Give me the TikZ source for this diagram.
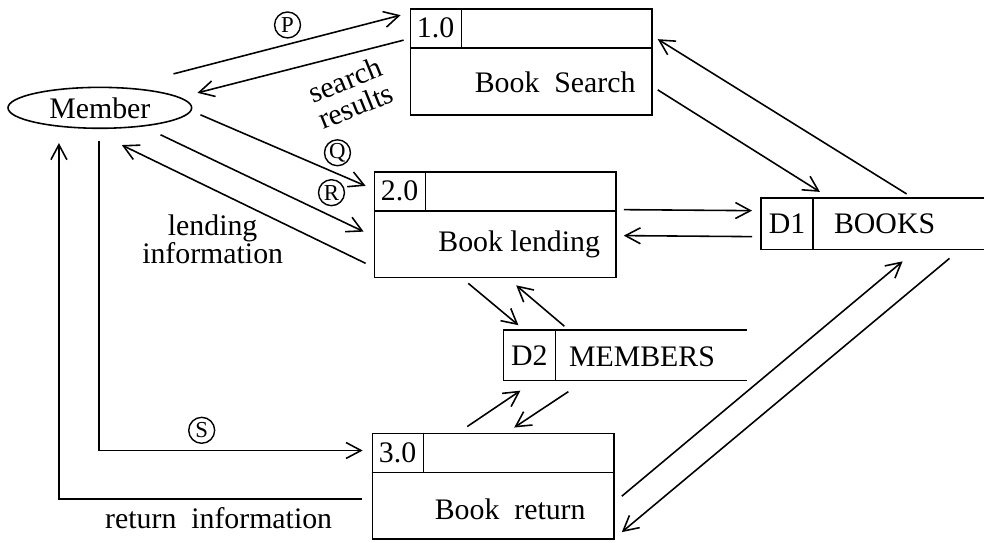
\documentclass[tikz,border=0pt]{standalone}
\usepackage{fontspec}
\setmainfont{Liberation Serif}
\usetikzlibrary{shapes.geometric,arrows.meta}

\begin{document}
\begin{tikzpicture}[x=0.02cm, y=-0.02cm]
    \path[fill=white] (0,0) rectangle (985,543);
    \begin{scope}
        \tikzstyle{every node}=[draw=black, line width=0.9pt, rectangle, minimum width=4.84cm, minimum height=2.12cm, inner sep=0pt, font=\fontsize{17}{20}\selectfont]
        \node (p1) at (532,62) {};
        \node (p2) at (496,225) {};
        \node (p3) at (494,487) {};
        \node[ellipse, minimum width=3.68cm, minimum height=0.82cm] (member) at (100,108) {Member};
        \node[draw=none, minimum width=4.44cm, minimum height=1cm] (d1) at (874,224) {};
        \node[draw=none, minimum width=4.84cm, minimum height=0.98cm] (d2) at (626,356) {};
    \end{scope}
    \begin{scope}[line width=0.9pt]
        \foreach \p in {p1,p2,p3} {
            \draw ([yshift=-0.8cm]\p.north west) -- ([yshift=-0.8cm]\p.north east);
            \draw ([xshift=1.04cm]\p.north west) -- ([xshift=1.04cm,yshift=-0.8cm]\p.north west);
        }
        \foreach \d in {d1,d2} {
            \draw (\d.north east) -- (\d.north west) -- (\d.south west) -- (\d.south east);
            \draw ([xshift=1.04cm]\d.north west) -- ([xshift=1.04cm]\d.south west);
        }
    \end{scope}
    \begin{scope}
        \tikzstyle{every node}=[inner sep=1pt, font=\fontsize{17}{16}\selectfont]
        \node (p1id) at ([xshift=0.52cm,yshift=-0.4cm]p1.north west) {1.0};
        \node (p2id) at ([xshift=0.52cm,yshift=-0.4cm]p2.north west) {2.0};
        \node (p3id) at ([xshift=0.52cm,yshift=-0.4cm]p3.north west) {3.0};
        \node (p1name) at (556,82) {Book\ \ Search};
        \node (p2name) at (520,245) {Book lending};
        \node (p3name) at (511,510) {Book\ \ return};
        \node (d1id) at ([xshift=0.52cm]d1.west) {D1};
        \node (d1name) at (886,224) {BOOKS};
        \node (d2id) at ([xshift=0.52cm]d2.west) {D2};
        \node (d2name) at (643,357) {MEMBERS};
        \node[rotate=22, align=center] (searchlbl) at (351,93) {search\\results};
        \node[align=center] (lendlbl) at (213,240) {lending\\information};
        \node (retlbl) at (219,519) {return\ \ information};
    \end{scope}
    \begin{scope}
        \tikzstyle{every node}=[draw=black, circle, line width=0.8pt, inner sep=0pt, minimum size=0.52cm, font=\fontsize{13}{13}\selectfont]
        \node (markP) at (288,25) {P};
        \node (markQ) at (338,153) {Q};
        \node (markR) at (332,193) {R};
        \node (markS) at (202,431) {S};
    \end{scope}
    \begin{scope}
        \tikzstyle{every edge}=[draw, line width=0.9pt, -{Straight Barb[length=3mm,width=3.2mm]}]
        \path
        ([shift={(-19,-34)}]member.east) edge ([shift={(-9,7)}]p1.north west)
        ([shift={(-6,32)}]p1.north west) edge ([shift={(5,-15)}]member.east)
        ([shift={(8,7)}]member.east) edge ([shift={(-8,15)}]p2.north west)
        ([shift={(-32,27)}]member.east) edge ([shift={(-10,7)}]p2.west)
        ([shift={(-8,-15)}]p2.south west) edge ([shift={(22,16)}]member.south)
        ([shift={(-1,12)}]member.south) edge[to path={|- (\tikztotarget)}] ([shift={(-9,18)}]p3.north west)
        ([shift={(-10,13)}]p3.west) edge[to path={-| (\tikztotarget)}] ([shift={(-41,14)}]member.south)
        ([shift={(5,28)}]p1.east) edge ([shift={(59,-6)}]d1.north west)
        ([shift={(34,-4)}]d1.north) edge ([shift={(5,31)}]p1.north east)
        ([shift={(7,-15)}]p2.east) edge ([shift={(-9,-13)}]d1.west)
        ([shift={(-9,13)}]d1.west) edge ([shift={(7,11)}]p2.east)
        ([shift={(-27,5)}]p2.south) edge ([shift={(15,-5)}]d2.north west)
        ([shift={(61,-4)}]d2.north west) edge ([shift={(21,7)}]p2.south)
        ([shift={(-26,-6)}]p3.north) edge ([shift={(17,10)}]d2.south west)
        ([shift={(65,11)}]d2.south west) edge ([shift={(21,-5)}]p3.north)
        ([shift={(7,10)}]p3.east) edge ([shift={(30,12)}]d1.south)
        ([shift={(77,9)}]d1.south) edge ([shift={(7,46)}]p3.east);
    \end{scope}
\end{tikzpicture}
\end{document}
